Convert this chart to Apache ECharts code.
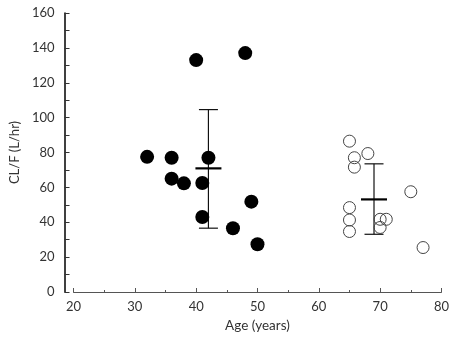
<!DOCTYPE html>
<html>
<head>
<meta charset="utf-8">
<script src="https://cdn.jsdelivr.net/npm/echarts@6/dist/echarts.min.js"></script>
<style>
  html, body { margin: 0; padding: 0; background: #fff; }
  #chart { width: 452px; height: 338px; }
</style>
</head>
<body>
<div id="chart"></div>
<script>
// younger group (filled)
const youngAge = [32, 36, 36, 38, 40, 41, 41, 42, 46, 48, 49, 50]
const youngCl = [77.5, 77, 65, 62.3, 133, 62.5, 43, 77, 36.6, 137, 51.8, 27.4]
// older group (open)
const oldAge = [65, 68, 65.8, 65.8, 75, 65, 65, 65, 71, 70, 70, 77]
const oldCl = [86.5, 79.4, 77, 71.6, 57.5, 48.4, 41.3, 34.7, 41.7, 41.7, 37, 25.5]
// group means with range
const groupAge = [42, 69]
const groupMean = [70.9, 53.1]
const groupLow = [36.6, 33.1]
const groupHigh = [104.6, 73.5]

const font = 'Lato, "DejaVu Sans", sans-serif'
const pair = (xs, ys) => xs.map((x, i) => [x, ys[i]])

const chart = echarts.init(document.getElementById('chart'))

chart.setOption({
  backgroundColor: '#fff',
  animation: false,
  grid: {
    left: 70,
    right: 6,
    top: 13,
    bottom: 45
  },
  xAxis: {
    type: 'value',
    min: 20,
    max: 80,
    interval: 10,
    name: 'Age (years)',
    nameLocation: 'middle',
    nameGap: 27,
    nameTextStyle: { color: '#333', fontSize: 13.5, fontFamily: font },
    axisLine: { lineStyle: { color: '#555', width: 1 } },
    axisTick: { inside: true, length: 4, lineStyle: { color: '#555' } },
    minorTick: { show: true, splitNumber: 2, length: 2, lineStyle: { color: '#555' } },
    axisLabel: { margin: 8, color: '#333', fontSize: 13, fontFamily: font },
    splitLine: { show: false }
  },
  yAxis: {
    type: 'value',
    min: 0,
    max: 160,
    interval: 20,
    offset: 9,
    name: 'CL/F (L/hr)',
    nameLocation: 'middle',
    nameGap: 42,
    nameTextStyle: { color: '#333', fontSize: 13, fontFamily: font },
    axisLine: { lineStyle: { color: '#000', width: 1.5 } },
    axisTick: { inside: true, length: 5, lineStyle: { color: '#333' } },
    minorTick: { show: true, splitNumber: 2, length: 5, lineStyle: { color: '#333' } },
    axisLabel: { margin: 10, color: '#333', fontSize: 13, fontFamily: font },
    splitLine: { show: false }
  },
  series: [
    {
      type: 'custom',
      z: 1,
      data: groupAge.map((a, i) => [a, groupMean[i], groupLow[i], groupHigh[i]]),
      renderItem: (params, api) => {
        const top = api.coord([api.value(0), api.value(3)])
        const bot = api.coord([api.value(0), api.value(2)])
        const mid = api.coord([api.value(0), api.value(1)])
        const cap = 9.5
        const bar = 13
        const thin = { stroke: '#111', lineWidth: 1.2 }
        return {
          type: 'group',
          children: [
            { type: 'line', shape: { x1: top[0], y1: top[1], x2: bot[0], y2: bot[1] }, style: thin },
            { type: 'line', shape: { x1: top[0] - cap, y1: top[1], x2: top[0] + cap, y2: top[1] }, style: thin },
            { type: 'line', shape: { x1: bot[0] - cap, y1: bot[1], x2: bot[0] + cap, y2: bot[1] }, style: thin },
            { type: 'line', shape: { x1: mid[0] - bar, y1: mid[1], x2: mid[0] + bar, y2: mid[1] }, style: { stroke: '#000', lineWidth: 2.2 } }
          ]
        }
      }
    },
    {
      type: 'scatter',
      z: 2,
      symbolSize: 14,
      data: pair(youngAge, youngCl),
      itemStyle: { color: '#000', opacity: 1 }
    },
    {
      type: 'scatter',
      z: 2,
      symbolSize: 12,
      data: pair(oldAge, oldCl),
      itemStyle: { color: 'rgba(0,0,0,0)', borderColor: '#444', borderWidth: 1, opacity: 1 }
    }
  ]
})
</script>
</body>
</html>
